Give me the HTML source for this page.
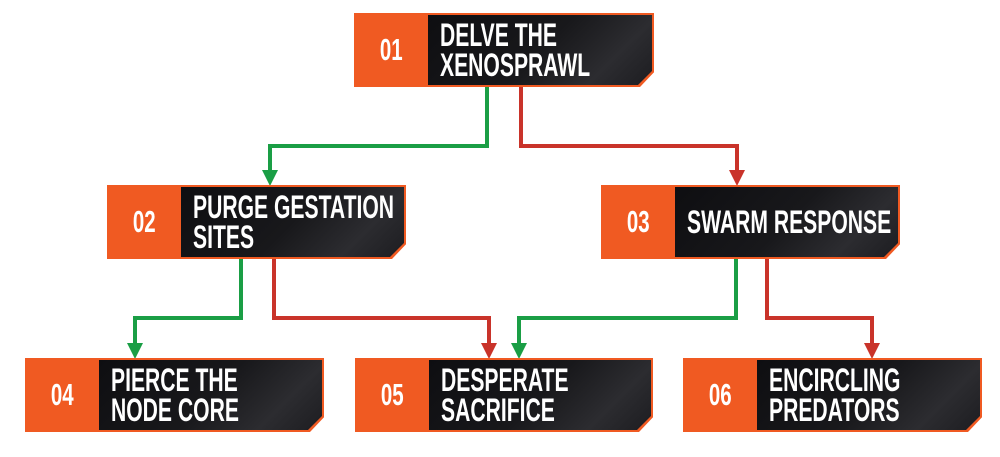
<!DOCTYPE html>
<html><head><style>
body{margin:0;width:1000px;height:457px;background:#fff;position:relative;overflow:hidden;font-family:"Liberation Sans",sans-serif}
.b{position:absolute;height:74px;background:#f05a22;clip-path:polygon(0 0,100% 0,100% 80%,calc(100% - 14px) 100%,0 100%)}
.n{position:absolute;left:0;width:74px;top:0;height:74px;display:flex;align-items:center;justify-content:center;color:#fff;font-weight:bold;font-size:31px}
.n span,.t span{display:inline-block;transform:scaleX(.66);transform-origin:left center}
.n span{transform-origin:center}
.d{position:absolute;left:74px;top:2px;right:2px;bottom:2px;background:linear-gradient(135deg,#0e0e11 0%,#18181b 50%,#2c2c30 78%,#1d1d21 100%);clip-path:polygon(0 0,100% 0,100% 80%,calc(100% - 14px) 100%,0 100%)}
.t{position:absolute;left:12px;top:0;bottom:0;display:flex;align-items:center;color:#fff;font-weight:bold;font-size:32px;line-height:30px;white-space:nowrap}
</style></head><body>
<svg width="1000" height="457" style="position:absolute;left:0;top:0">
<g fill="none" stroke-width="4">
<path d="M487 87V146H270V172" stroke="#1a9e45"/>
<path d="M521 87V146H737V172" stroke="#c9332a"/>
<path d="M241 259V318H135V345" stroke="#1a9e45"/>
<path d="M274 259V318H489V345" stroke="#c9332a"/>
<path d="M736 259V318H519V345" stroke="#1a9e45"/>
<path d="M767 259V318H872V345" stroke="#c9332a"/>
</g>
<polygon points="262,170 278,170 270,186" fill="#1a9e45"/>
<polygon points="729,170 745,170 737,186" fill="#c9332a"/>
<polygon points="127,343 143,343 135,359" fill="#1a9e45"/>
<polygon points="481,343 497,343 489,359" fill="#c9332a"/>
<polygon points="511,343 527,343 519,359" fill="#1a9e45"/>
<polygon points="864,343 880,343 872,359" fill="#c9332a"/>
</svg>
<div class="b" style="left:354px;top:13px;width:300px"><div class="n"><span>01</span></div><div class="d"><div class="t"><span>DELVE THE<br>XENOSPRAWL</span></div></div></div>
<div class="b" style="left:107px;top:185px;width:299px"><div class="n"><span>02</span></div><div class="d"><div class="t"><span>PURGE GESTATION<br>SITES</span></div></div></div>
<div class="b" style="left:601px;top:185px;width:299px"><div class="n"><span>03</span></div><div class="d"><div class="t"><span>SWARM RESPONSE</span></div></div></div>
<div class="b" style="left:25px;top:358px;width:299px"><div class="n"><span>04</span></div><div class="d"><div class="t"><span>PIERCE THE<br>NODE CORE</span></div></div></div>
<div class="b" style="left:355px;top:358px;width:298px"><div class="n"><span>05</span></div><div class="d"><div class="t"><span>DESPERATE<br>SACRIFICE</span></div></div></div>
<div class="b" style="left:683px;top:358px;width:299px"><div class="n"><span>06</span></div><div class="d"><div class="t"><span>ENCIRCLING<br>PREDATORS</span></div></div></div>
</body></html>
